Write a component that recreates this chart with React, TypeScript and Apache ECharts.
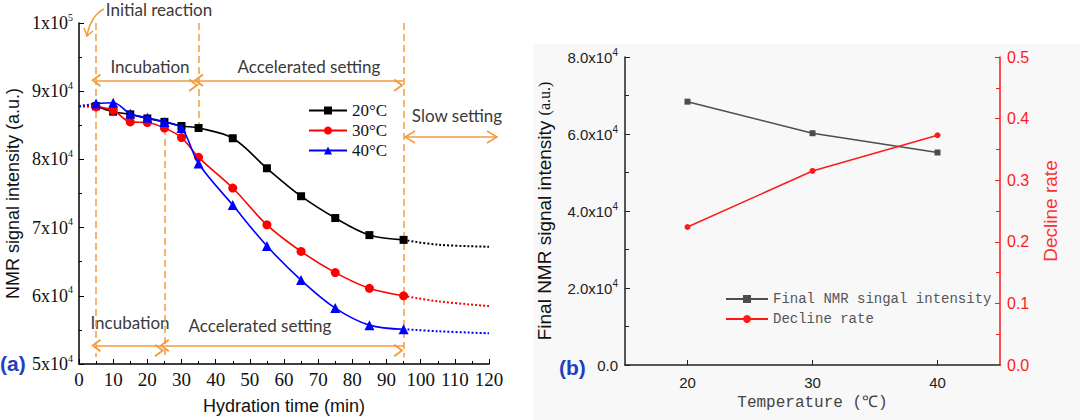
import React, { useEffect, useRef } from "react";
import * as echarts from "echarts";

// ---------- data: panel (a) ----------
const hydrationTimes = [5, 10, 15, 20, 25, 30, 35, 45, 55, 65, 75, 85, 95];
const signal20 = [87800, 87000, 86600, 86000, 85500, 84900, 84600, 83100, 78700, 74600, 71400, 68900, 68200];
const signal30 = [87700, 87200, 85500, 85400, 84600, 83200, 80300, 75800, 70400, 66500, 63400, 61100, 60000];
const signal40 = [88200, 88300, 86700, 86100, 85500, 84600, 79400, 73300, 67300, 62300, 58200, 55700, 55100];
const leadInTime = 0;
const leadInSignal = 87800;
const extrapTimes = [95, 105, 120];
const extrap20 = [68200, 67500, 67200];
const extrap30 = [60000, 59200, 58500];
const extrap40 = [55100, 54800, 54500];
const seriesNamesA = ["20°C", "30°C", "40°C"];
const xTicksA = { min: 0, max: 120, interval: 10 };
const yTicksA = { min: 50000, max: 100000, interval: 10000 };
// stage boundaries (min) and annotation levels
const stageLines = [
  { x: 5, from: 100000, to: 51000 },
  { x: 25, from: 84600, to: 51000 },
  { x: 35, from: 100000, to: 84600 },
  { x: 95, from: 100000, to: 51000 },
];
const stageArrows = [
  { from: 5, to: 35, y: 91600 },
  { from: 35, to: 95, y: 91600 },
  { from: 5, to: 25, y: 52700 },
  { from: 25, to: 95, y: 52700 },
];

// ---------- data: panel (b) ----------
const temperatures = ["20", "30", "40"];
const finalIntensity = [68400, 60200, 55200];
const declineRate = [0.224, 0.315, 0.373];
const seriesNamesB = ["Final NMR singal intensity", "Decline rate"];

const ORANGE = "#F39C3F";
const CHEVRON = "path://M6,0L12,9L10.6,10.2L6,3.2L1.4,10.2L0,9Z";

const pairs = (xs: number[], ys: number[]) => xs.map((x, i) => [x, ys[i]]);

function sciLabel(v: number) {
  if (v === 0) return "0";
  const e = Math.floor(Math.log10(v) + 1e-9);
  const m = Math.round(v / Math.pow(10, e));
  return `{m|${m}x10}{s|${e}}`;
}

export default function App() {
  const ref = useRef<HTMLDivElement>(null);
  useEffect(() => {
    document.body.style.margin = "0";
    if (!ref.current) return;
    const chart = echarts.init(ref.current, undefined, { renderer: "svg" });

    const serif = "'Times New Roman', 'Liberation Serif', serif";
    const sans = "Arial, 'Liberation Sans', sans-serif";
    const mono = "'Courier New', 'Liberation Mono', monospace";

    const mainA = [
      { name: seriesNamesA[0], data: signal20, color: "#000000", symbol: "rect", size: 8 },
      { name: seriesNamesA[1], data: signal30, color: "#ff0000", symbol: "circle", size: 9 },
      { name: seriesNamesA[2], data: signal40, color: "#0000ff", symbol: "triangle", size: 10 },
    ];
    const extraps = [extrap20, extrap30, extrap40];

    const series: any[] = [];
    mainA.forEach((s, i) => {
      series.push({
        type: "line",
        xAxisIndex: 0,
        yAxisIndex: 0,
        data: [[leadInTime, leadInSignal], [hydrationTimes[0], s.data[0]]],
        symbol: "none",
        lineStyle: { color: s.color, width: 2, type: "dotted" },
        silent: true,
        z: 2 + i,
      });
      series.push({
        type: "line",
        xAxisIndex: 0,
        yAxisIndex: 0,
        data: pairs(extrapTimes, extraps[i]),
        symbol: "none",
        smooth: 0.4,
        lineStyle: { color: s.color, width: 2, type: "dotted" },
        silent: true,
        z: 2 + i,
        markLine:
          i === 0
            ? {
                silent: true,
                symbol: ["none", "none"],
                label: { show: false },
                lineStyle: { color: ORANGE, width: 1.5, type: [7, 4] },
                data: stageLines.map((l) => [
                  { coord: [l.x, l.from] },
                  { coord: [l.x, l.to] },
                ]),
              }
            : i === 1
            ? {
                silent: true,
                symbol: [CHEVRON, CHEVRON],
                symbolSize: [13, 10],
                symbolOffset: [0, 5],
                label: { show: false },
                lineStyle: { color: ORANGE, width: 1.5, type: "solid" },
                data: stageArrows.map((a) => [
                  { coord: [a.from, a.y] },
                  { coord: [a.to, a.y] },
                ]),
              }
            : undefined,
      });
      series.push({
        type: "line",
        name: s.name,
        xAxisIndex: 0,
        yAxisIndex: 0,
        data: pairs(hydrationTimes, s.data),
        smooth: 0.35,
        symbol: s.symbol,
        symbolSize: s.size,
        itemStyle: { color: s.color },
        lineStyle: { color: s.color, width: 1.6 },
        z: 5 + i,
      });
    });

    series.push({
      type: "line",
      name: seriesNamesB[0],
      xAxisIndex: 1,
      yAxisIndex: 1,
      data: finalIntensity,
      symbol: "rect",
      symbolSize: 6,
      itemStyle: { color: "#4d4d4d" },
      lineStyle: { color: "#4d4d4d", width: 1.5 },
    });
    series.push({
      type: "line",
      name: seriesNamesB[1],
      xAxisIndex: 1,
      yAxisIndex: 2,
      data: declineRate,
      symbol: "circle",
      symbolSize: 6,
      itemStyle: { color: "#ff1a1a" },
      lineStyle: { color: "#ff1a1a", width: 1.5 },
    });

    const annText = (text: string, x: number, y: number) => ({
      type: "text",
      x,
      y,
      style: {
        text,
        font: "17px Lato",
        fill: "#3a3a3a",
        textAlign: "center",
        textVerticalAlign: "middle",
      },
      silent: true,
    });
    const orangeStroke = { stroke: ORANGE, lineWidth: 1.5, fill: "none" };

    const option: any = {
      animation: false,
      backgroundColor: "#ffffff",
      grid: [
        { left: 79, top: 23, width: 410, height: 341 },
        { left: 625, top: 57, width: 375, height: 308 },
      ],
      legend: [
        {
          data: seriesNamesA,
          orient: "vertical",
          left: 303,
          top: 97,
          itemWidth: 38,
          itemHeight: 10,
          itemGap: 3,
          textStyle: { fontFamily: serif, fontSize: 17, color: "#111" },
          selectedMode: false,
        },
        {
          data: seriesNamesB,
          orient: "vertical",
          left: 720,
          top: 287,
          itemWidth: 42,
          itemHeight: 10,
          itemGap: 6,
          textStyle: { fontFamily: mono, fontSize: 14, color: "#555" },
          selectedMode: false,
        },
      ],
      xAxis: [
        {
          gridIndex: 0,
          type: "value",
          ...xTicksA,
          axisLine: { show: true, lineStyle: { color: "#000", width: 1.5 } },
          axisTick: { show: true, inside: true, length: 5, lineStyle: { color: "#000" } },
          minorTick: { show: true, splitNumber: 2, length: 3, lineStyle: { color: "#000" } },
          splitLine: { show: false },
          axisLabel: { fontFamily: serif, fontSize: 19, color: "#111", margin: 6 },
          name: "Hydration time (min)",
          nameLocation: "middle",
          nameGap: 33,
          nameTextStyle: { fontFamily: sans, fontSize: 18, color: "#111" },
        },
        {
          gridIndex: 1,
          type: "category",
          data: temperatures,
          boundaryGap: true,
          axisLine: { show: true, lineStyle: { color: "#222", width: 1.5 } },
          axisTick: { show: true, inside: true, alignWithLabel: true, length: 5, lineStyle: { color: "#222" } },
          splitLine: { show: false },
          axisLabel: { fontFamily: sans, fontSize: 15, color: "#222", margin: 10 },
          name: "Temperature (℃)",
          nameLocation: "middle",
          nameGap: 28,
          nameTextStyle: { fontFamily: mono, fontSize: 16, color: "#444" },
        },
      ],
      yAxis: [
        {
          gridIndex: 0,
          type: "value",
          ...yTicksA,
          axisLine: { show: true, lineStyle: { color: "#000", width: 1.5 } },
          axisTick: { show: true, inside: true, length: 5, lineStyle: { color: "#000" } },
          minorTick: { show: true, splitNumber: 2, length: 3, lineStyle: { color: "#000" } },
          splitLine: { show: false },
          axisLabel: {
            margin: 6,
            formatter: (v: number) => sciLabel(v),
            rich: {
              m: { fontFamily: serif, fontSize: 18, color: "#111", lineHeight: 22 },
              s: { fontFamily: serif, fontSize: 10, color: "#111", verticalAlign: "top", lineHeight: 12 },
            },
          },
          name: "NMR signal intensity (a.u.)",
          nameLocation: "middle",
          nameGap: 57,
          nameTextStyle: { fontFamily: sans, fontSize: 18, color: "#111" },
        },
        {
          gridIndex: 1,
          type: "value",
          min: 0,
          max: 80000,
          interval: 20000,
          position: "left",
          axisLine: { show: true, lineStyle: { color: "#222", width: 1.5 } },
          axisTick: { show: true, inside: true, length: 5, lineStyle: { color: "#222" } },
          minorTick: { show: true, splitNumber: 2, length: 4, lineStyle: { color: "#222" } },
          splitLine: { show: false },
          axisLabel: {
            margin: 7,
            formatter: (v: number) =>
              v === 0 ? "{m|0.0}" : `{m|${(v / 1e4).toFixed(1)}x10}{s|4}`,
            rich: {
              m: { fontFamily: sans, fontSize: 15, color: "#222", lineHeight: 20 },
              s: { fontFamily: sans, fontSize: 10, color: "#222", verticalAlign: "top", lineHeight: 11 },
            },
          },
          name: "{a|Final NMR signal intensity }{b|(a.u.)}",
          nameLocation: "middle",
          nameGap: 71,
          nameTextStyle: {
            rich: {
              a: { fontFamily: sans, fontSize: 19, color: "#111" },
              b: { fontFamily: serif, fontSize: 16, color: "#111" },
            },
          },
        },
        {
          gridIndex: 1,
          type: "value",
          min: 0,
          max: 0.5,
          interval: 0.1,
          position: "right",
          axisLine: { show: true, lineStyle: { color: "#ff1a1a", width: 1.5 } },
          axisTick: { show: true, inside: true, length: 5, lineStyle: { color: "#ff1a1a" } },
          minorTick: { show: true, splitNumber: 2, length: 4, lineStyle: { color: "#ff1a1a" } },
          splitLine: { show: false },
          axisLabel: {
            margin: 7,
            fontFamily: sans,
            fontSize: 16,
            color: "#ff1a1a",
            formatter: (v: number) => v.toFixed(1),
          },
          name: "Decline rate",
          nameLocation: "middle",
          nameGap: 41,
          nameTextStyle: { fontFamily: sans, fontSize: 19, color: "#ff3030" },
        },
      ],
      graphic: [
        {
          type: "rect",
          z: -10,
          silent: true,
          shape: { x: 533, y: 44, width: 547, height: 376 },
          style: { fill: "#f8f8f8" },
        },
        annText("Initial reaction", 159, 9),
        annText("Incubation", 150, 66),
        annText("Accelerated setting", 309, 66),
        annText("Slow setting", 457, 115),
        annText("Incubation", 130, 322),
        annText("Accelerated setting", 260, 325),
        // slow-setting arrow (extends past the axis end)
        { type: "line", silent: true, shape: { x1: 405, y1: 137, x2: 497, y2: 137 }, style: orangeStroke },
        { type: "polyline", silent: true, shape: { points: [[415, 131], [405, 137], [415, 143]] }, style: orangeStroke },
        { type: "polyline", silent: true, shape: { points: [[487, 131], [497, 137], [487, 143]] }, style: orangeStroke },
        // initial reaction pointer
        {
          type: "bezierCurve",
          silent: true,
          shape: { x1: 104, y1: 9, cpx1: 95, cpy1: 13, cpx2: 89, cpy2: 24, x2: 87, y2: 36 },
          style: orangeStroke,
        },
        {
          type: "polyline",
          silent: true,
          shape: { points: [[84, 28], [87, 36], [93, 31]] },
          style: orangeStroke,
        },
        {
          type: "text",
          x: 0,
          y: 363,
          style: {
            text: "(a)",
            font: "bold 21px 'Liberation Sans'",
            fill: "#1f3fbf",
            textVerticalAlign: "middle",
          },
        },
        {
          type: "text",
          x: 559,
          y: 367,
          style: {
            text: "(b)",
            font: "bold 21px 'Liberation Sans'",
            fill: "#1f3fbf",
            textVerticalAlign: "middle",
          },
        },
      ],
      series,
    };

    chart.setOption(option);
    return () => chart.dispose();
  }, []);

  return <div ref={ref} style={{ width: 1080, height: 420 }} />;
}
